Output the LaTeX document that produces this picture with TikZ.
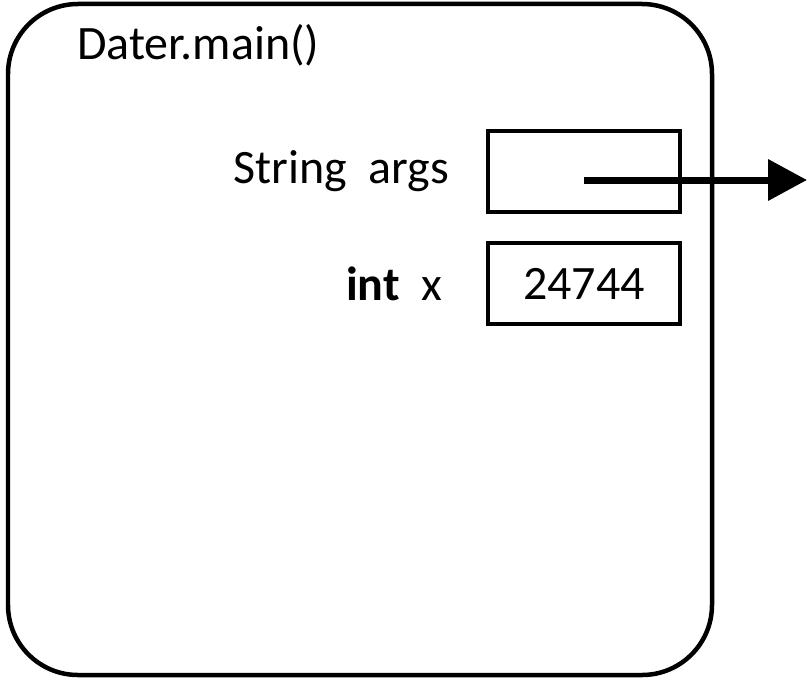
\documentclass[tikz,border=0pt]{standalone}
\usepackage{fontspec}
\setmainfont{Carlito}
\usetikzlibrary{
  positioning
  , arrows.meta
}

\begin{document}
\begin{tikzpicture}[x=0.02cm, y=0.02cm,
    font=\fontsize{27.3}{32}\selectfont,
    varbox/.style={draw=black, line width=0.08cm,
      minimum width=3.86cm, minimum height=1.61cm, inner sep=0pt},
    varname/.style={inner sep=0pt, anchor=east}]
      \useasboundingbox (0,0) rectangle (808,681);
      % stack frame
      \draw [line width=0.09cm, rounded corners=1.4cm] (8,6) rectangle (712,677);
      \node [anchor=base west, inner sep=0pt] (title) at (77,622) {Dater.main()};

      % variables
      \node [varbox] (args) at (584,509.5) {};
      \node [varbox] (x) at (584,397.5) {24744};
      \node [varname, left=0.72cm of args] (argsname) {String\ \ args};
      \node [varname, left=0.86cm of x] (xname) {\textbf{int}\ \ x};

      % reference
      \coordinate (ref) at (584,501);
      \coordinate (target) at (807,501);
      \draw [-{Triangle[length=0.78cm, width=0.8cm]}, line width=0.14cm]
        (ref) -- (target);
    \end{tikzpicture}
\end{document}
